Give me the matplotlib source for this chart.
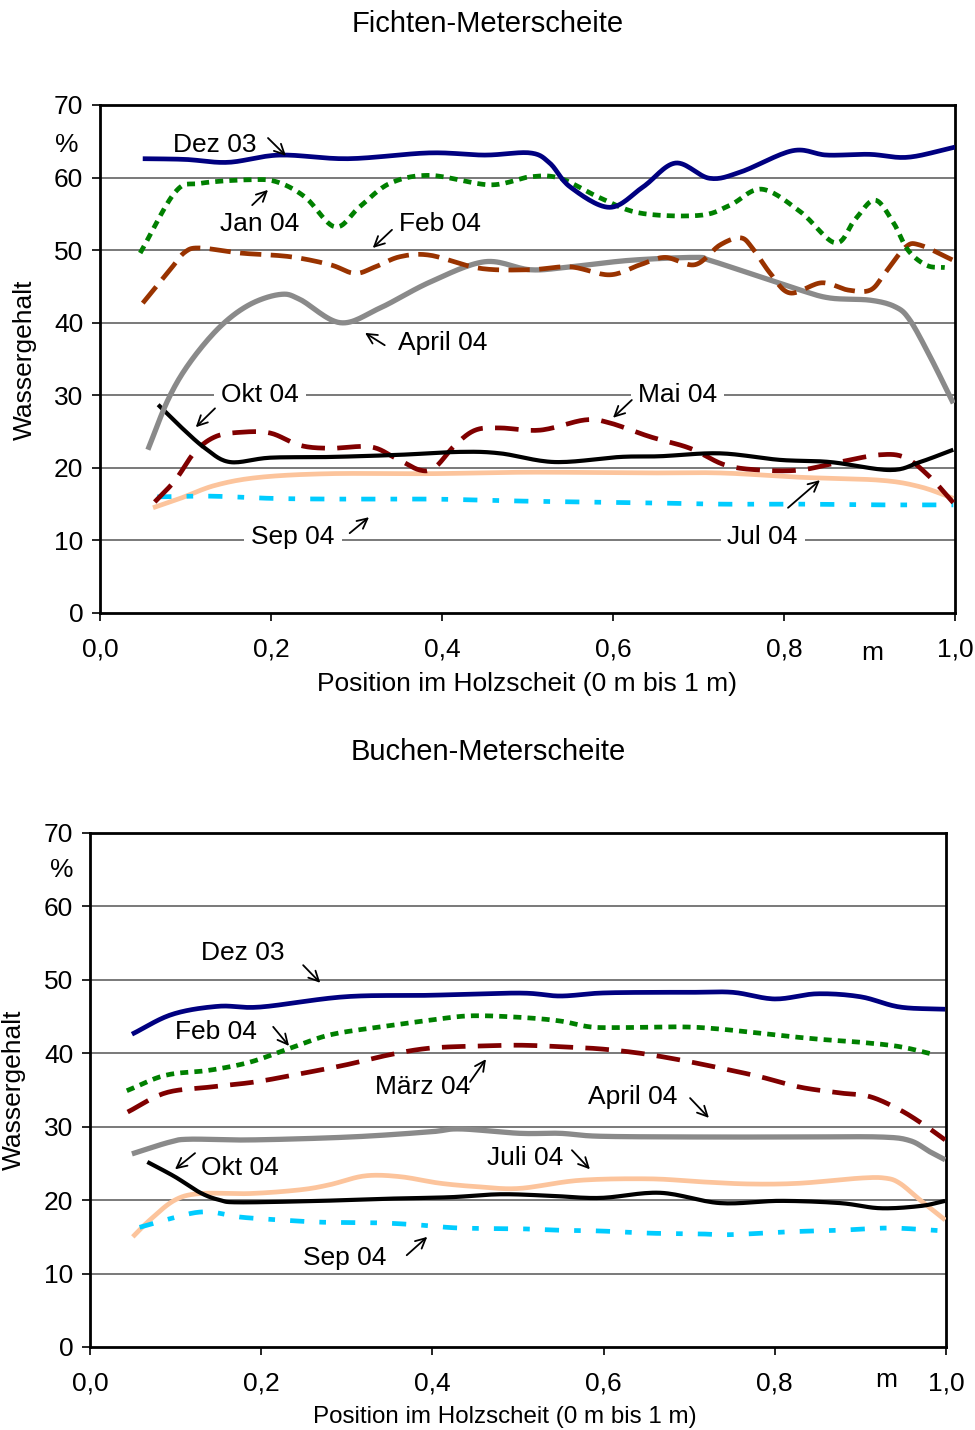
import numpy as np
import matplotlib
matplotlib.use("Agg")
import matplotlib.pyplot as plt

plt.rcParams['font.family'] = ['Liberation Sans', 'DejaVu Sans']

# ---- Fichten-Meterscheite (top) ----
f_dez03_x = [0.05, 0.10, 0.15, 0.21, 0.29, 0.385, 0.45, 0.503, 0.526, 0.55, 0.596, 0.635, 0.673, 0.713, 0.75, 0.81, 0.85, 0.90, 0.945, 1.0]
f_dez03_y = [62.6, 62.5, 62.1, 63.1, 62.6, 63.4, 63.1, 63.4, 62.0, 58.7, 55.9, 58.7, 62.0, 59.9, 60.8, 63.7, 63.1, 63.2, 62.8, 64.2]

f_jan04_x = [0.047, 0.088, 0.117, 0.175, 0.207, 0.240, 0.275, 0.304, 0.339, 0.386, 0.456, 0.503, 0.538, 0.585, 0.632, 0.702, 0.737, 0.774, 0.819, 0.860, 0.883, 0.906, 0.927, 0.945, 0.967, 0.988]
f_jan04_y = [49.6, 58.0, 59.2, 59.7, 59.4, 57.3, 53.2, 56.0, 59.2, 60.3, 59.0, 60.1, 59.9, 57.2, 55.1, 54.8, 56.2, 58.4, 55.3, 51.0, 54.2, 56.9, 54.0, 50.0, 47.9, 47.6]

f_feb04_x = [0.050, 0.082, 0.099, 0.117, 0.164, 0.222, 0.269, 0.298, 0.322, 0.351, 0.386, 0.444, 0.503, 0.550, 0.596, 0.632, 0.661, 0.696, 0.725, 0.749, 0.763, 0.784, 0.807, 0.844, 0.875, 0.901, 0.918, 0.942, 0.959, 0.998]
f_feb04_y = [42.7, 47.3, 49.7, 50.3, 49.6, 49.1, 48.0, 46.8, 47.7, 49.1, 49.3, 47.5, 47.3, 47.7, 46.6, 48.0, 49.0, 48.0, 50.7, 51.7, 50.3, 46.8, 44.1, 45.5, 44.5, 44.5, 46.8, 50.4, 50.7, 48.6]

f_apr04_x = [0.056, 0.08, 0.105, 0.14, 0.175, 0.211, 0.234, 0.281, 0.327, 0.386, 0.45, 0.503, 0.55, 0.62, 0.696, 0.713, 0.76, 0.819, 0.854, 0.901, 0.93, 0.947, 0.971, 0.998]
f_apr04_y = [22.5, 29.5, 34.5, 39.4, 42.5, 43.9, 43.2, 40.0, 42.0, 45.6, 48.4, 47.3, 47.7, 48.6, 49.0, 48.6, 46.8, 44.5, 43.4, 43.1, 42.2, 40.4, 35.3, 28.9]

f_mai04_x = [0.064, 0.088, 0.111, 0.135, 0.164, 0.199, 0.234, 0.269, 0.316, 0.345, 0.374, 0.392, 0.415, 0.439, 0.468, 0.515, 0.567, 0.596, 0.643, 0.690, 0.731, 0.772, 0.819, 0.865, 0.912, 0.942, 0.971, 0.998]
f_mai04_y = [15.3, 18.3, 22.2, 24.3, 24.9, 24.8, 23.1, 22.7, 22.9, 21.4, 19.7, 20.1, 23.1, 25.2, 25.5, 25.2, 26.6, 26.2, 24.3, 22.7, 20.4, 19.7, 19.7, 20.8, 21.8, 21.4, 18.7, 15.2]

f_jul04_x = [0.062, 0.094, 0.135, 0.187, 0.269, 0.386, 0.503, 0.632, 0.725, 0.819, 0.912, 0.959, 0.998]
f_jul04_y = [14.5, 15.8, 17.6, 18.7, 19.2, 19.2, 19.4, 19.3, 19.3, 18.7, 18.3, 17.4, 15.8]

f_sep04_x = [0.067, 0.129, 0.199, 0.269, 0.386, 0.503, 0.632, 0.725, 0.819, 0.912, 0.998]
f_sep04_y = [16.0, 16.1, 15.8, 15.7, 15.7, 15.4, 15.2, 15.0, 15.0, 14.9, 14.9]

f_okt04_x = [0.068, 0.094, 0.123, 0.152, 0.199, 0.269, 0.351, 0.421, 0.468, 0.532, 0.608, 0.655, 0.725, 0.795, 0.854, 0.924, 0.959, 0.998]
f_okt04_y = [28.7, 25.7, 22.7, 20.8, 21.4, 21.5, 21.8, 22.2, 22.0, 20.8, 21.5, 21.6, 22.0, 21.1, 20.8, 19.7, 20.8, 22.5]

# ---- Buchen-Meterscheite (bottom) ----
b_dez03_x = [0.049, 0.096, 0.150, 0.199, 0.298, 0.397, 0.502, 0.549, 0.596, 0.654, 0.701, 0.751, 0.800, 0.849, 0.900, 0.946, 0.999]
b_dez03_y = [42.6, 45.3, 46.4, 46.3, 47.7, 47.9, 48.2, 47.8, 48.2, 48.3, 48.3, 48.3, 47.4, 48.1, 47.7, 46.3, 46.0]

b_feb04_x = [0.043, 0.088, 0.140, 0.187, 0.234, 0.280, 0.339, 0.397, 0.444, 0.502, 0.549, 0.584, 0.619, 0.689, 0.736, 0.800, 0.853, 0.900, 0.946, 0.987]
b_feb04_y = [34.9, 37.0, 37.7, 38.8, 40.7, 42.5, 43.6, 44.5, 45.1, 44.9, 44.4, 43.6, 43.5, 43.6, 43.3, 42.5, 41.9, 41.5, 40.9, 39.8]

b_mrz04_x = [0.044, 0.088, 0.140, 0.193, 0.245, 0.298, 0.350, 0.397, 0.456, 0.502, 0.549, 0.596, 0.643, 0.689, 0.736, 0.783, 0.829, 0.876, 0.911, 0.946, 0.975, 0.999]
b_mrz04_y = [32.0, 34.6, 35.4, 36.1, 37.2, 38.4, 39.8, 40.7, 41.0, 41.1, 40.9, 40.6, 40.0, 39.1, 38.0, 36.8, 35.4, 34.6, 34.1, 32.3, 30.2, 28.2]

b_apr04_x = [0.049, 0.093, 0.117, 0.187, 0.304, 0.397, 0.432, 0.502, 0.549, 0.596, 0.713, 0.829, 0.923, 0.958, 0.981, 0.999]
b_apr04_y = [26.3, 27.9, 28.3, 28.2, 28.6, 29.3, 29.7, 29.1, 29.1, 28.7, 28.6, 28.6, 28.6, 28.1, 26.6, 25.5]

b_jul04_x = [0.050, 0.070, 0.099, 0.129, 0.187, 0.245, 0.280, 0.321, 0.362, 0.409, 0.456, 0.502, 0.572, 0.654, 0.713, 0.771, 0.829, 0.900, 0.929, 0.946, 0.970, 0.999]
b_jul04_y = [15.0, 17.3, 20.0, 20.9, 20.9, 21.4, 22.1, 23.3, 23.2, 22.3, 21.8, 21.6, 22.7, 22.9, 22.5, 22.2, 22.3, 23.0, 23.0, 22.3, 20.0, 17.3]

b_sep04_x = [0.058, 0.088, 0.123, 0.146, 0.175, 0.222, 0.269, 0.339, 0.386, 0.432, 0.502, 0.549, 0.596, 0.654, 0.713, 0.748, 0.818, 0.876, 0.935, 0.999]
b_sep04_y = [16.3, 17.3, 18.3, 18.3, 17.7, 17.3, 17.0, 16.9, 16.6, 16.2, 16.1, 15.9, 15.8, 15.5, 15.4, 15.3, 15.7, 15.9, 16.2, 15.8]

b_okt04_x = [0.067, 0.099, 0.129, 0.152, 0.175, 0.269, 0.350, 0.421, 0.479, 0.537, 0.596, 0.666, 0.736, 0.806, 0.876, 0.923, 0.970, 0.999]
b_okt04_y = [25.2, 23.2, 21.0, 20.0, 19.7, 19.9, 20.2, 20.4, 20.8, 20.6, 20.3, 21.0, 19.6, 19.9, 19.6, 18.9, 19.2, 19.9]

x_ticks = [0.0, 0.2, 0.4, 0.6, 0.8, 1.0]
x_ticklabels = ['0,0', '0,2', '0,4', '0,6', '0,8', '1,0']
y_ticks = [0, 10, 20, 30, 40, 50, 60, 70]

FS = 19
FS_TITLE = 21
W, H = 975, 1430


def smooth(x, y, n=16):
    # Catmull-Rom curve through the points (like Excel's smoothed line)
    x = np.asarray(x, float)
    y = np.asarray(y, float)
    px = np.concatenate([[2 * x[0] - x[1]], x, [2 * x[-1] - x[-2]]])
    py = np.concatenate([[2 * y[0] - y[1]], y, [2 * y[-1] - y[-2]]])
    t = np.linspace(0, 1, n, endpoint=False)
    xs, ys = [], []
    for i in range(1, len(px) - 2):
        for p, out in ((px, xs), (py, ys)):
            p0, p1, p2, p3 = p[i - 1], p[i], p[i + 1], p[i + 2]
            out.append(0.5 * (2 * p1 + (-p0 + p2) * t
                              + (2 * p0 - 5 * p1 + 4 * p2 - p3) * t ** 2
                              + (-p0 + 3 * p1 - 3 * p2 + p3) * t ** 3))
    xs.append([x[-1]])
    ys.append([y[-1]])
    return np.concatenate(xs), np.concatenate(ys)


styles = {
    'dez03': dict(color='#000080', lw=3.4, ls='-'),
    'green': dict(color='#008000', lw=3.4, ls=(0, (1.7, 1.3))),
    'feb_top': dict(color='#993300', lw=3.4, ls=(0, (4.5, 2.0))),
    'darkred': dict(color='#800000', lw=3.4, ls=(0, (5.0, 2.6))),
    'april': dict(color='#8a8a8a', lw=3.8, ls='-'),
    'okt': dict(color='#000000', lw=3.0, ls='-'),
    'jul': dict(color='#fcc49c', lw=3.4, ls='-'),
    'sep': dict(color='#00ccff', lw=3.4, ls=(0, (3.0, 3.2, 1.4, 3.2))),
}


def fp(x, y):
    return x / W, 1 - y / H


def setup(ax):
    ax.set_xlim(0, 1)
    ax.set_ylim(0, 70)
    ax.set_xticks(x_ticks)
    ax.set_xticklabels(x_ticklabels)
    ax.set_yticks(y_ticks)
    ax.tick_params(axis='both', direction='out', length=6, width=1.2, labelsize=FS)
    ax.tick_params(axis='x', pad=12)
    ax.tick_params(axis='y', pad=6)
    for s in ax.spines.values():
        s.set_linewidth(2)
        s.set_color('black')
    for v in y_ticks[1:-1]:
        ax.axhline(v, color='#555555', lw=1.1, zorder=1)


def label(ax, text, txy, start, end, box=False):
    kw = dict(fontsize=FS, ha='center', va='center', zorder=6)
    if box:
        kw['bbox'] = dict(facecolor='white', edgecolor='none', pad=5)
    ax.text(txy[0], txy[1], text, **kw)
    ax.annotate('', xy=end, xytext=start,
                arrowprops=dict(arrowstyle='->', color='black', lw=1.3, mutation_scale=18,
                                shrinkA=0, shrinkB=0), zorder=7)


fig = plt.figure(figsize=(W / 100, H / 100), dpi=100)

# top chart
ax1 = fig.add_axes([100 / W, 1 - 613 / H, 855 / W, 508 / H])
setup(ax1)
top_series = [
    (f_jul04_x, f_jul04_y, 'jul'),
    (f_sep04_x, f_sep04_y, 'sep'),
    (f_mai04_x, f_mai04_y, 'darkred'),
    (f_okt04_x, f_okt04_y, 'okt'),
    (f_apr04_x, f_apr04_y, 'april'),
    (f_feb04_x, f_feb04_y, 'feb_top'),
    (f_jan04_x, f_jan04_y, 'green'),
    (f_dez03_x, f_dez03_y, 'dez03'),
]
for xs, ys, st in top_series:
    sx, sy = smooth(xs, ys)
    s = styles[st]
    ax1.plot(sx, sy, color=s['color'], lw=s['lw'], ls=s['ls'], zorder=3, solid_capstyle='butt')

label(ax1, 'Dez 03', (0.1345, 64.5), (0.1965, 65.45), (0.2175, 63.0))
label(ax1, 'Jan 04', (0.187, 53.6), (0.178, 56.2), (0.1965, 58.3))
label(ax1, 'Feb 04', (0.398, 53.6), (0.3415, 52.8), (0.319, 50.3))
label(ax1, 'April 04', (0.401, 37.2), (0.333, 36.9), (0.310, 38.6))
label(ax1, 'Okt 04', (0.187, 30.0), (0.1345, 28.2), (0.112, 25.6), box=True)
label(ax1, 'Mai 04', (0.675, 30.0), (0.622, 29.35), (0.600, 26.9), box=True)
label(ax1, 'Sep 04', (0.2257, 10.5), (0.292, 11.0), (0.3146, 13.2), box=True)
label(ax1, 'Jul 04', (0.775, 10.5), (0.8047, 14.5), (0.842, 18.3), box=True)

# bottom chart
ax2 = fig.add_axes([90 / W, 1 - 1347 / H, 856 / W, 514 / H])
setup(ax2)
bottom_series = [
    (b_jul04_x, b_jul04_y, 'jul'),
    (b_sep04_x, b_sep04_y, 'sep'),
    (b_apr04_x, b_apr04_y, 'april'),
    (b_okt04_x, b_okt04_y, 'okt'),
    (b_mrz04_x, b_mrz04_y, 'darkred'),
    (b_feb04_x, b_feb04_y, 'green'),
    (b_dez03_x, b_dez03_y, 'dez03'),
]
for xs, ys, st in bottom_series:
    sx, sy = smooth(xs, ys)
    s = styles[st]
    ax2.plot(sx, sy, color=s['color'], lw=s['lw'], ls=s['ls'], zorder=3, solid_capstyle='butt')

label(ax2, 'Dez 03', (0.1787, 53.7), (0.249, 52.0), (0.269, 49.6))
label(ax2, 'Feb 04', (0.147, 42.9), (0.214, 43.6), (0.2325, 41.0))
label(ax2, 'März 04', (0.388, 35.4), (0.444, 36.1), (0.4626, 39.2))
label(ax2, 'April 04', (0.634, 34.0), (0.701, 33.9), (0.723, 31.2))
label(ax2, 'Okt 04', (0.175, 24.4), (0.1227, 26.4), (0.0993, 24.2))
label(ax2, 'Juli 04', (0.508, 25.7), (0.563, 26.8), (0.584, 24.2))
label(ax2, 'Sep 04', (0.298, 12.1), (0.370, 12.5), (0.394, 15.0))

# titles, axis labels and unit marks
fig.text(*fp(488, 24), 'Fichten-Meterscheite', fontsize=FS_TITLE, ha='center', va='center')
fig.text(*fp(527, 684), 'Position im Holzscheit (0 m bis 1 m)', fontsize=FS, ha='center', va='center')
fig.text(*fp(25, 360), 'Wassergehalt', fontsize=FS, ha='center', va='center', rotation=90)
fig.text(*fp(67, 145), '%', fontsize=FS, ha='center', va='center')
fig.text(*fp(872, 653), 'm', fontsize=FS, ha='center', va='center')

fig.text(*fp(488, 752), 'Buchen-Meterscheite', fontsize=FS_TITLE, ha='center', va='center')
fig.text(*fp(505, 1417), 'Position im Holzscheit (0 m bis 1 m)', fontsize=17.4, ha='center', va='center')
fig.text(*fp(14, 1090), 'Wassergehalt', fontsize=FS, ha='center', va='center', rotation=90)
fig.text(*fp(62, 870), '%', fontsize=FS, ha='center', va='center')
fig.text(*fp(886, 1380), 'm', fontsize=FS, ha='center', va='center')

fig.savefig('out.png', dpi=100)
